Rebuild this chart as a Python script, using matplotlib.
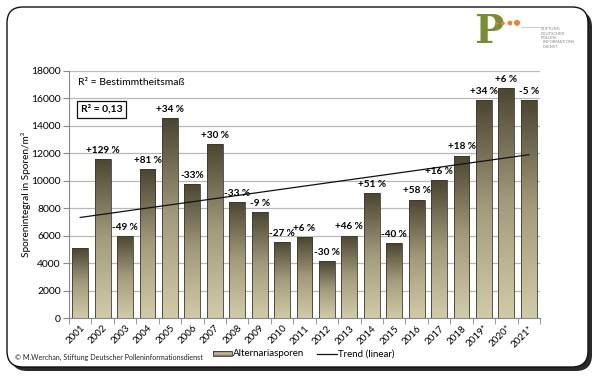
import numpy as np
import matplotlib
matplotlib.use("Agg")
import matplotlib.pyplot as plt
from matplotlib.patches import FancyBboxPatch, Rectangle, Circle
from matplotlib.colors import LinearSegmentedColormap

plt.rcParams['font.family'] = ['Lato', 'DejaVu Sans']

years = ["2001", "2002", "2003", "2004", "2005", "2006", "2007", "2008", "2009", "2010",
         "2011", "2012", "2013", "2014", "2015", "2016", "2017", "2018", "2019*", "2020*", "2021*"]
values = [5100, 11600, 6000, 10850, 14550, 9770, 12680, 8460, 7700, 5550,
          5900, 4120, 6010, 9090, 5430, 8630, 10040, 11830, 15900, 16780, 15900]
changes = ["", "+129 %", "-49 %", "+81 %", "+34 %", "-33%", "+30 %", "-33 %", "-9 %", "-27 %",
           "+6 %", "-30 %", "+46 %", "+51 %", "-40 %", "+58 %", "+16 %", "+18 %", "+34 %", "+6 %", "-5 %"]
yticks = [0, 2000, 4000, 6000, 8000, 10000, 12000, 14000, 16000, 18000]

W, H = 600, 381
fig = plt.figure(figsize=(6, 3.81), dpi=100)
fig.patch.set_facecolor("white")

def fx(px):
    return px / W

def fy(py):
    return 1 - py / H

# background axes in pixel coordinates
bg = fig.add_axes([0, 0, 1, 1], zorder=-1)
bg.set_xlim(0, W)
bg.set_ylim(H, 0)
bg.axis("off")
bg.add_patch(FancyBboxPatch((11, 11), 581, 360, boxstyle="round,pad=0,rounding_size=16",
                            facecolor="#2a2a2a", edgecolor="none", zorder=0))
bg.add_patch(FancyBboxPatch((7, 7), 581, 360, boxstyle="round,pad=0,rounding_size=16",
                            facecolor="white", edgecolor="#111111", linewidth=1.0, zorder=1))

cmap = LinearSegmentedColormap.from_list("bar", ["#d2cba9", "#a39c7c", "#4b4531"])

ax = fig.add_axes([fx(69), fy(318), fx(540 - 69), (318 - 71) / H], zorder=1)
ax.set_facecolor("none")
x = np.arange(len(years))
width = 0.71
bars = ax.bar(x, values, width=width, color="none", edgecolor="#3a3a30", linewidth=0.6, zorder=3)
grad = np.linspace(0, 1, 256).reshape(-1, 1)
for b in bars:
    x0, y0 = b.get_x(), b.get_y()
    w, h = b.get_width(), b.get_height()
    im = ax.imshow(grad, cmap=cmap, origin="lower", aspect="auto",
                   extent=[x0, x0 + w, y0, y0 + h], zorder=2)
    im.set_clip_path(b)

ax.set_xlim(-0.5, len(years) - 0.5)
ax.set_ylim(0, 18000)
ax.set_yticks(yticks)
ax.set_yticklabels([str(v) for v in yticks], fontsize=7.5)
ax.set_xticks(x)
ax.set_xticklabels(years, rotation=45, fontsize=7, ha="right", rotation_mode="anchor")
ax.set_xticks(np.arange(-0.5, len(years), 1), minor=True)
ax.tick_params(axis="x", which="major", length=0, pad=4)
ax.tick_params(axis="x", which="minor", length=4, color="#888888")
ax.tick_params(axis="y", length=4, color="#888888", pad=2)
ax.grid(axis="y", color="#b8b8b8", linewidth=0.9, zorder=1)
ax.set_axisbelow(True)
for s in ["top", "right"]:
    ax.spines[s].set_visible(False)
ax.spines["left"].set_color("#888888")
ax.spines["bottom"].set_color("#888888")
ax.set_ylabel("Sporenintegral in Sporen/m³", fontsize=7.2)
ax.yaxis.set_label_coords(-(69 - 31) / (540 - 69), 0.5)

# trend
coef = np.polyfit(x, values, 1)
ax.plot(x, np.polyval(coef, x), color="#111111", linewidth=0.9, zorder=4)

for xi, v, c in zip(x, values, changes):
    if c:
        ax.annotate(c, (xi, v), xytext=(0, 3), textcoords="offset points",
                    ha="center", va="bottom", fontsize=7.2, fontweight="bold", zorder=5)

ax.text(0.02, 0.955, "R² = Bestimmtheitsmaß", transform=ax.transAxes, fontsize=7.5,
        va="center", ha="left")
ax.text(0.025, 0.845, "R² = 0,13", transform=ax.transAxes, fontsize=7.5, fontweight="bold",
        va="center", ha="left",
        bbox=dict(boxstyle="square,pad=0.35", facecolor="white", edgecolor="#111111", linewidth=0.9))

# footer
bg.text(15, 357, "© M.Werchan, Stiftung Deutscher Polleninformationsdienst",
        fontsize=5.1, va="center", ha="left", color="#222222", zorder=3)
lgrad = LinearSegmentedColormap.from_list("l", ["#7a7358", "#c9c2a0", "#7a7358"])
rect = Rectangle((213, 351), 19, 5, facecolor="none", edgecolor="#3a3a30", linewidth=0.6, zorder=4)
bg.add_patch(rect)
lim = bg.imshow(np.linspace(0, 1, 64).reshape(-1, 1), cmap=lgrad, aspect="auto",
                extent=[213, 232, 356, 351], zorder=3)
lim.set_clip_path(rect)
bg.set_xlim(0, W)
bg.set_ylim(H, 0)
bg.text(233, 354, "Alternariasporen", fontsize=7, va="center", ha="left", zorder=3)
bg.plot([317, 337], [354, 354], color="#111111", linewidth=0.9, zorder=3)
bg.text(338, 354, "Trend (linear)", fontsize=7, va="center", ha="left", zorder=3)

# logo
bg.text(474, 32, "P", fontsize=28, fontweight="bold", color="#7a8c34",
        family="DejaVu Serif", va="center", ha="left", zorder=3)
for px, r in zip([497, 503, 510, 517], [1.3, 1.8, 2.4, 3.0]):
    bg.add_patch(Circle((px, 24 - r * 0.4), r, facecolor="#e8833a", edgecolor="none", zorder=4))
bg.plot([521, 540], [27, 27], color="#bbbbbb", linewidth=0.5, zorder=3)
bg.text(541, 38, "STIFTUNG\nDEUTSCHER\nPOLLEN-\n  INFORMATIONS-\n  DIENST",
        fontsize=3, color="#888888", va="center", ha="left", linespacing=1.1, zorder=3)
bg.set_aspect("auto")

fig.savefig("out.png", dpi=100)
